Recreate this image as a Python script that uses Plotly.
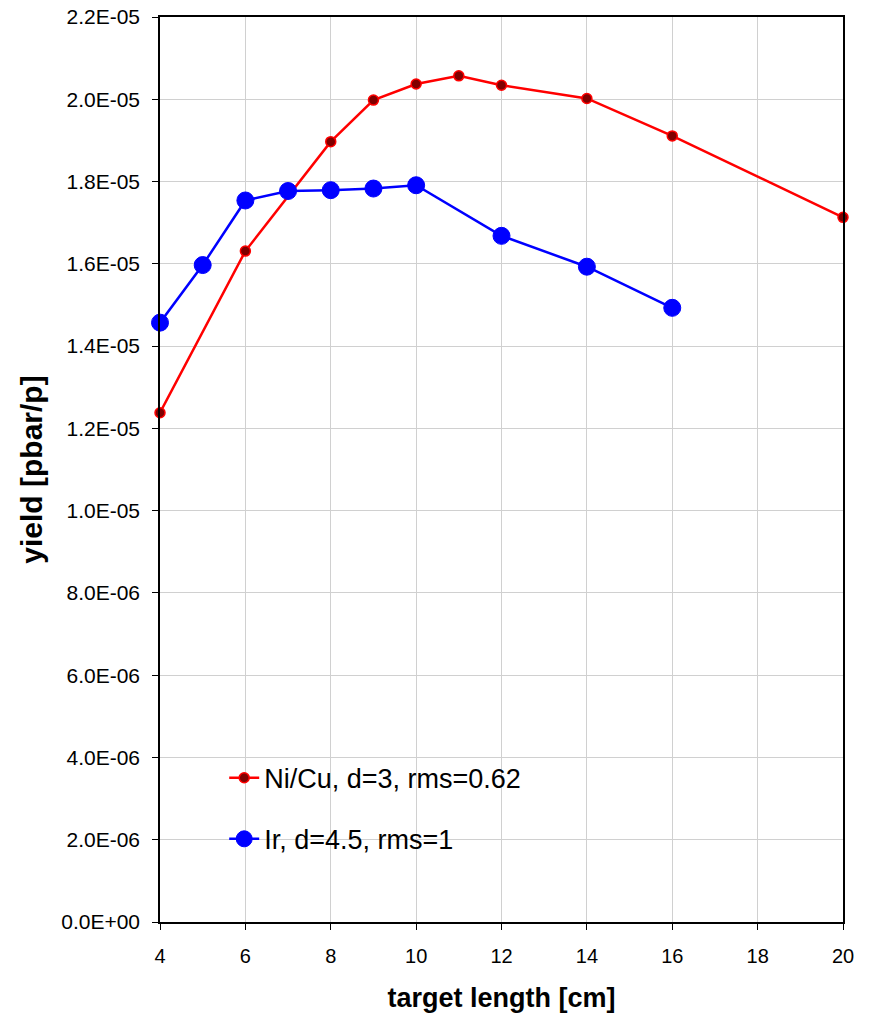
import plotly.graph_objects as go

# target length [cm]
nicu_length = [4, 6, 8, 9, 10, 11, 12, 14, 16, 20]
ir_length = [4, 5, 6, 7, 8, 9, 10, 12, 14, 16]

# antiproton yield per proton
nicu_yield = [1.238e-05, 1.631e-05, 1.897e-05, 1.998e-05, 2.037e-05,
              2.057e-05, 2.034e-05, 2.002e-05, 1.911e-05, 1.713e-05]
ir_yield = [1.457e-05, 1.597e-05, 1.754e-05, 1.777e-05, 1.779e-05,
            1.783e-05, 1.791e-05, 1.668e-05, 1.593e-05, 1.493e-05]

series_names = ["Ni/Cu, d=3, rms=0.62", "Ir, d=4.5, rms=1"]

x_ticks = [4, 6, 8, 10, 12, 14, 16, 18, 20]
y_ticks = [i * 2e-06 for i in range(12)]
y_tick_text = ["0.0E+00", "2.0E-06", "4.0E-06", "6.0E-06", "8.0E-06", "1.0E-05",
               "1.2E-05", "1.4E-05", "1.6E-05", "1.8E-05", "2.0E-05", "2.2E-05"]

FONT = "Arial, 'Liberation Sans', sans-serif"

fig = go.Figure()
fig.add_trace(go.Scatter(
    x=nicu_length, y=nicu_yield, name=series_names[0], mode="lines+markers",
    legendgroup="a", cliponaxis=False,
    line=dict(color="#ff0000", width=2.5),
    marker=dict(size=10, color="#800000", line=dict(color="#ff0000", width=1.5)),
))
fig.add_trace(go.Scatter(
    x=ir_length, y=ir_yield, name=series_names[1], mode="lines+markers",
    legendgroup="b", cliponaxis=False,
    line=dict(color="#0000ff", width=2.5),
    marker=dict(size=17, color="#0000ff", line=dict(color="#0000ff", width=1)),
))

axis_common = dict(
    showgrid=True, gridcolor="#d0d0d0", gridwidth=1,
    showline=True, linecolor="black", linewidth=1.5, mirror=True,
    ticks="outside", ticklen=6, tickcolor="black", zeroline=False,
    automargin=False,
)

fig.update_layout(
    width=871, height=1019,
    margin=dict(l=160, r=28, t=17, b=97),
    paper_bgcolor="white", plot_bgcolor="white",
    font=dict(family=FONT, color="black"),
    xaxis=dict(
        range=[4, 20], tickvals=x_ticks, tickfont=dict(size=20),
        ticklabelstandoff=9,
        title=dict(text="<b>target length [cm]</b>", font=dict(size=27), standoff=22),
        **axis_common,
    ),
    yaxis=dict(
        range=[0, 2.2e-05], tickvals=y_ticks, ticktext=y_tick_text,
        tickfont=dict(size=21), ticklabelstandoff=8,
        title=dict(text="<b>yield [pbar/p]</b>", font=dict(size=30), standoff=10),
        **axis_common,
    ),
    legend=dict(
        x=0.094, y=0.186, xanchor="left", yanchor="top",
        bgcolor="rgba(0,0,0,0)", borderwidth=0,
        font=dict(size=27), tracegroupgap=23, traceorder="grouped",
    ),
    # white panel behind the legend, covering the gridlines
    shapes=[dict(
        type="rect", xref="paper", yref="paper",
        x0=0.034, x1=0.578, y0=0.0575, y1=0.1956,
        fillcolor="white", line=dict(width=0), layer="between",
    )],
)

fig.write_html("out.html")
